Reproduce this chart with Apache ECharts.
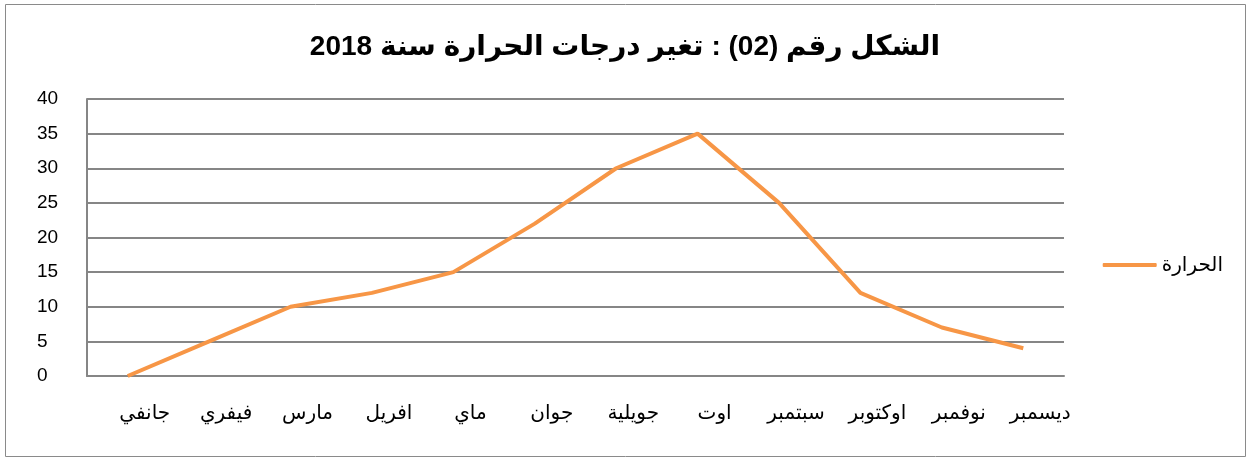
<!DOCTYPE html>
<html>
<head>
<meta charset="utf-8">
<script src="https://cdn.jsdelivr.net/npm/echarts@6/dist/echarts.min.js"></script>
<style>
  html, body { margin: 0; padding: 0; background: #fff; }
  #chart { width: 1250px; height: 459px; }
</style>
</head>
<body>
<div id="chart"></div>
<script>
const months = ['جانفي', 'فيفري', 'مارس', 'افريل', 'ماي', 'جوان', 'جويلية', 'اوت', 'سبتمبر', 'اوكتوبر', 'نوفمبر', 'ديسمبر']
const temperature = [0, 5, 10, 12, 15, 22, 30, 35, 25, 12, 7, 4]
const seriesName = 'الحرارة'
const titleText = 'الشكل رقم (02) : تغير درجات الحرارة سنة 2018'

const font = '"Liberation Sans", Arial, "DejaVu Sans", sans-serif'

const chart = echarts.init(document.getElementById('chart'))

const option = {
  animation: false,
  textStyle: { fontFamily: font },
  title: {
    text: titleText,
    left: 'center',
    top: 28,
    textStyle: {
      fontFamily: font,
      fontSize: 28,
      fontWeight: 'bold',
      color: '#000'
    }
  },
  legend: {
    data: [seriesName],
    right: 22,
    top: 250,
    itemWidth: 54,
    itemHeight: 4,
    itemGap: 4,
    icon: 'roundRect',
    textStyle: { fontSize: 20, color: '#000', fontFamily: font }
  },
  graphic: [{
    type: 'rect',
    shape: { x: 5.5, y: 4.5, width: 1240, height: 452 },
    style: { fill: 'none', stroke: '#8a8a8a', lineWidth: 1 },
    silent: true
  }],
  grid: {
    left: 87,
    right: 186,
    top: 99,
    bottom: 83
  },
  xAxis: {
    type: 'category',
    data: months,
    boundaryGap: true,
    axisLine: { show: true, lineStyle: { color: '#868686', width: 2 } },
    axisTick: { show: false },
    axisLabel: {
      color: '#000',
      fontSize: 20,
      margin: 27,
      interval: 0,
      padding: [0, 0, 0, 34]
    }
  },
  yAxis: {
    type: 'value',
    min: 0,
    max: 40,
    interval: 5,
    axisLine: { show: true, lineStyle: { color: '#868686', width: 2 } },
    axisTick: { show: false },
    splitLine: { lineStyle: { color: '#868686', width: 2 } },
    axisLabel: {
      color: '#000',
      fontSize: 19,
      align: 'left',
      margin: 50
    }
  },
  series: [{
    name: seriesName,
    type: 'line',
    data: temperature,
    symbol: 'none',
    lineStyle: { color: '#F79646', width: 4 },
    itemStyle: { color: '#F79646' }
  }]
}

chart.setOption(option)
</script>
</body>
</html>
